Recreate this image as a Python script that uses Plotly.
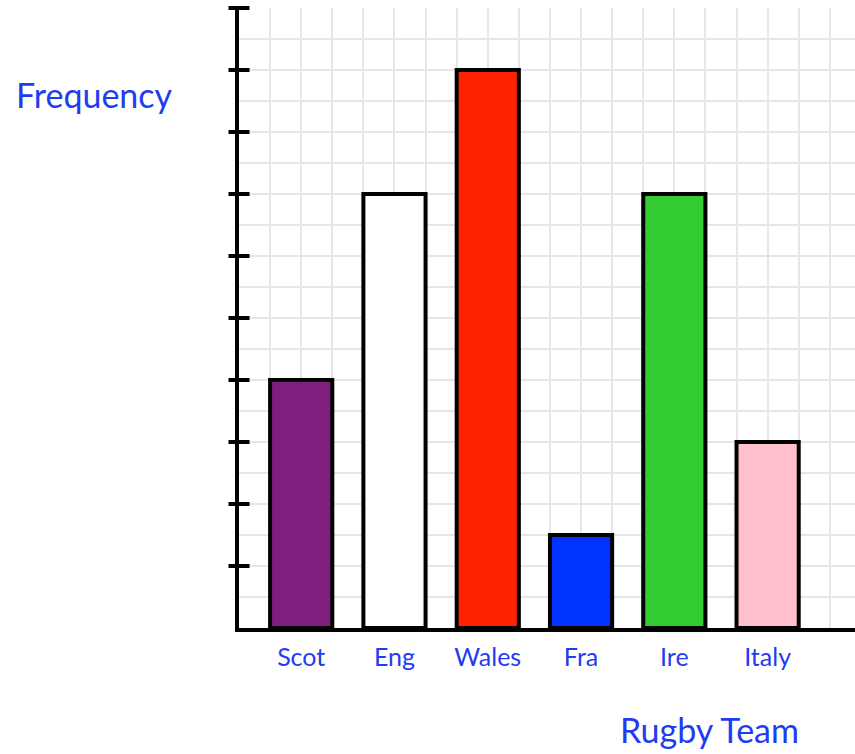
import plotly.graph_objects as go

teams = ["Scot", "Eng", "Wales", "Fra", "Ire", "Italy"]
frequency = [4, 7, 9, 1.5, 7, 3]
bar_colors = ["#801e7e", "#ffffff", "#ff2200", "#0033ff", "#33cc33", "#ffc0cb"]
y_ticks = [1, 2, 3, 4, 5, 6, 7, 8, 9, 10]

BLUE = "#1f3cf2"
FONT = "Lato, 'Open Sans', sans-serif"
GRID = "#e6e6e6"

# each team occupies 3 grid cells; bar centred 2 cells from the axis
x_pos = [2 + 3 * i for i in range(len(teams))]

fig = go.Figure()
fig.add_trace(go.Bar(
    x=x_pos, y=frequency, width=2,
    marker=dict(color=bar_colors, line=dict(color="black", width=4)),
    showlegend=False, hovertext=teams, hoverinfo="text+y",
))
# tick marks crossing the y axis
fig.add_trace(go.Scatter(
    x=[0] * len(y_ticks), y=y_ticks, mode="markers", cliponaxis=False,
    marker=dict(symbol="line-ew", size=15, line=dict(color="black", width=4)),
    showlegend=False, hoverinfo="skip",
))

fig.update_layout(
    width=855, height=754,
    margin=dict(l=239, r=0, t=8, b=126),
    paper_bgcolor="white", plot_bgcolor="white",
    font=dict(family=FONT, color=BLUE),
    xaxis=dict(range=[0, 19.81], tickmode="array", tickvals=x_pos, ticktext=teams,
               showgrid=True, gridcolor=GRID, gridwidth=2,
               minor=dict(tick0=0, dtick=1, showgrid=True, gridcolor=GRID, gridwidth=2),
               zeroline=False, showline=True, linecolor="black", linewidth=4,
               ticks="", ticklabelstandoff=4,
               tickfont=dict(size=25, color=BLUE, family=FONT)),
    yaxis=dict(range=[0, 10], dtick=1, showgrid=True, gridcolor=GRID, gridwidth=2,
               minor=dict(dtick=0.5, showgrid=True, gridcolor=GRID, gridwidth=2),
               showticklabels=False, zeroline=False,
               showline=True, linecolor="black", linewidth=4, ticks=""),
    annotations=[
        dict(text="Frequency", xref="paper", yref="paper", x=-0.2338, y=0.8597,
             xanchor="center", yanchor="middle", showarrow=False,
             font=dict(size=34, color=BLUE, family=FONT)),
        dict(text="Rugby Team", xref="paper", yref="paper", x=0.7646, y=-0.1645,
             xanchor="center", yanchor="middle", showarrow=False,
             font=dict(size=34, color=BLUE, family=FONT)),
    ],
)

fig.write_html("out.html",
               config={"displayModeBar": False},
               post_script="document.body.style.margin='0px';"
                           "document.body.style.overflow='hidden';")
